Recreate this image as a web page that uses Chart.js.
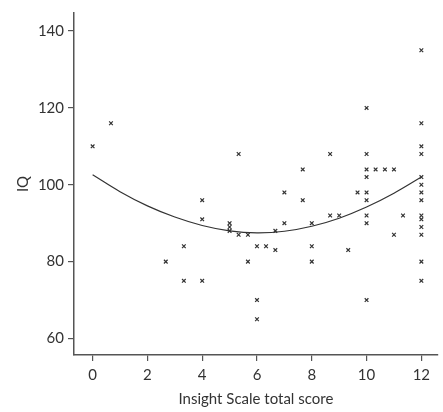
<!DOCTYPE html>
<html>
<head>
<meta charset="utf-8">
<script src="https://cdn.jsdelivr.net/npm/chart.js@4/dist/chart.umd.min.js"></script>
<style>
  html, body { margin: 0; padding: 0; background: #fff; }
  #wrap { width: 443px; height: 412px; }
</style>
</head>
<body>
<div id="wrap"><canvas id="plotCanvas"></canvas></div>
<script>
// Insight Scale score vs IQ, one entry per subject
const insight = [0, 0.67, 2.67, 3.33, 3.33, 4, 4, 4, 5, 5, 5, 5.33, 5.33, 5.67, 5.67,
  6, 6, 6, 6.33, 6.67, 6.67, 7, 7, 7.67, 7.67, 8, 8, 8, 8.67, 8.67, 9, 9.33, 9.67,
  10, 10, 10, 10, 10, 10, 10, 10, 10, 10.33, 10.67, 11, 11, 11.33,
  12, 12, 12, 12, 12, 12, 12, 12, 12, 12, 12, 12, 12, 12];
const iq = [110, 116, 80, 84, 75, 96, 91, 75, 90, 89, 88, 108, 87, 87, 80,
  84, 70, 65, 84, 88, 83, 98, 90, 104, 96, 90, 84, 80, 108, 92, 92, 83, 98,
  120, 108, 104, 102, 98, 96, 92, 90, 70, 104, 104, 104, 87, 92,
  135, 116, 110, 108, 102, 100, 98, 96, 92, 91, 89, 87, 80, 75];

// fitted curve
const fitX = [0, 1, 2, 3, 4, 5, 6, 7, 8, 9, 10, 11, 12];
const fitY = [102.6, 98.2, 94.5, 91.6, 89.4, 88.0, 87.5, 87.9, 89.2, 91.3, 94.2, 97.8, 102.0];

const xTicks = [0, 2, 4, 6, 8, 10, 12];
const yTicks = [60, 80, 100, 120, 140];

Chart.defaults.font.family = "Lato";
Chart.defaults.font.size = 15;
Chart.defaults.color = "#333";

const axisColor = "#555";

const ctx = document.getElementById("plotCanvas").getContext("2d");
new Chart(ctx, {
  type: "scatter",
  data: {
    datasets: [
      {
        data: fitX.map((x, i) => ({ x: x, y: fitY[i] })),
        showLine: true,
        borderColor: "#333",
        borderWidth: 1.2,
        pointRadius: 0,
        tension: 0.4,
        fill: false
      },
      {
        data: insight.map((x, i) => ({ x: x, y: iq[i] })),
        pointStyle: "crossRot",
        pointRadius: 2.6,
        borderColor: "#333",
        borderWidth: 1.2,
        showLine: false
      }
    ]
  },
  options: {
    responsive: true,
    maintainAspectRatio: false,
    animation: false,
    layout: { padding: { top: 12, right: 3 } },
    plugins: { legend: { display: false }, tooltip: { enabled: false } },
    scales: {
      x: {
        type: "linear",
        min: -0.68,
        max: 12.6,
        afterBuildTicks: s => { s.ticks = xTicks.map(v => ({ value: v })); },
        afterFit: s => { s.height = 57; },
        grid: { drawOnChartArea: false, tickLength: 6, color: axisColor, lineWidth: 1.2 },
        border: { color: axisColor, width: 1.5 },
        ticks: { padding: 5 },
        title: { display: true, text: "Insight Scale total score", padding: { top: 2, bottom: 4 } }
      },
      y: {
        min: 55.7,
        max: 144.7,
        afterBuildTicks: s => { s.ticks = yTicks.map(v => ({ value: v })); },
        afterFit: s => { s.width = 74; },
        grid: { drawOnChartArea: false, tickLength: 6, color: axisColor, lineWidth: 1.2 },
        border: { color: axisColor, width: 1.5 },
        ticks: { padding: 4 },
        title: { display: true, text: "IQ", padding: { top: 14, bottom: 4 } }
      }
    }
  }
});
</script>
</body>
</html>
